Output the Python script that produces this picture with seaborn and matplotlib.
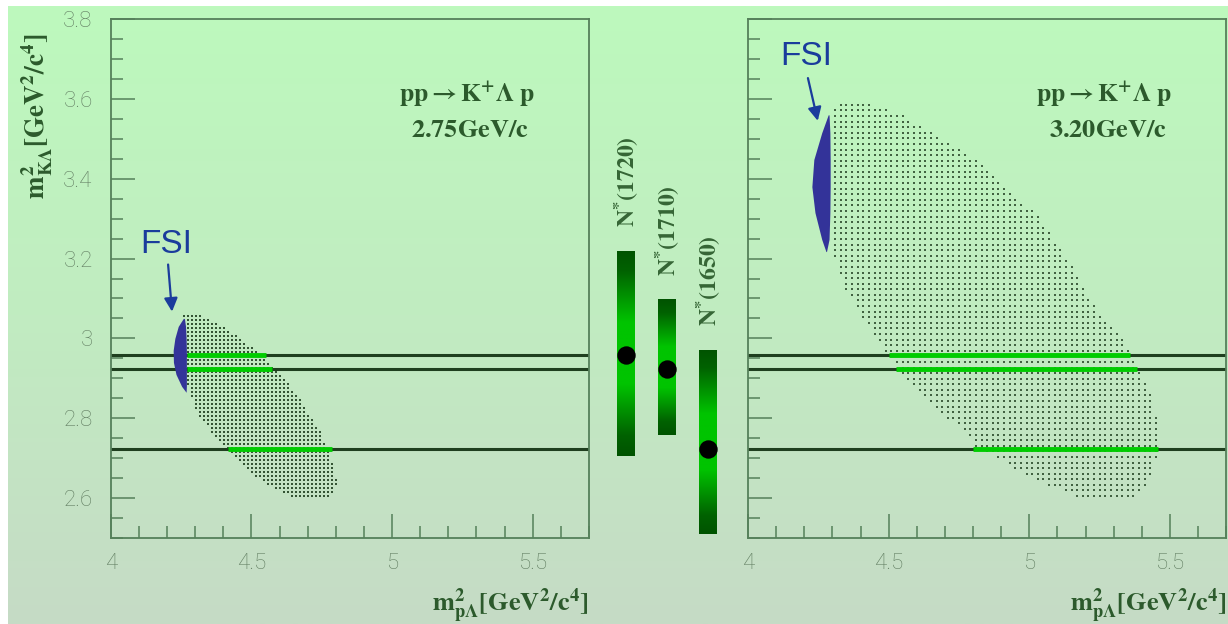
import numpy as np
import pandas as pd
import matplotlib
matplotlib.use("Agg")
import matplotlib.pyplot as plt
from matplotlib.colors import LinearSegmentedColormap
from matplotlib.path import Path
from matplotlib.ticker import MultipleLocator, FuncFormatter
import seaborn as sns

# ---------------- data ----------------
beam_labels = ["2.75GeV/c", "3.20GeV/c"]

# Dalitz-plot (phase space) boundary, left panel: m2(pL), m2(KL)
dal_l_x = [4.25, 4.32, 4.364, 4.432, 4.496, 4.574, 4.627, 4.674, 4.709, 4.745,
           4.770, 4.791, 4.805, 4.795, 4.760, 4.656, 4.613, 4.542, 4.471, 4.414,
           4.360, 4.318, 4.289, 4.272, 4.270, 4.270]
dal_l_y = [3.058, 3.060, 3.042, 3.015, 2.980, 2.930, 2.890, 2.848, 2.805, 2.765,
           2.723, 2.680, 2.640, 2.615, 2.597, 2.597, 2.615, 2.640, 2.680, 2.723,
           2.765, 2.805, 2.848, 2.890, 2.950, 3.050]

# Dalitz-plot boundary, right panel
dal_r_x = [4.290, 4.326, 4.418, 4.553, 4.650, 4.810, 4.910, 5.020, 5.087, 5.137,
           5.186, 5.250, 5.320, 5.360, 5.400, 5.440, 5.452, 5.460, 5.466, 5.440,
           5.420, 5.360, 5.190, 5.037, 4.937, 4.817, 4.780, 4.695, 4.626, 4.553,
           4.497, 4.440, 4.400, 4.340, 4.310, 4.290]
dal_r_y = [3.560, 3.592, 3.592, 3.560, 3.515, 3.448, 3.380, 3.315, 3.248, 3.198,
           3.130, 3.060, 3.015, 2.960, 2.905, 2.848, 2.805, 2.765, 2.723, 2.680,
           2.640, 2.597, 2.597, 2.640, 2.680, 2.723, 2.765, 2.805, 2.848, 2.905,
           2.960, 3.015, 3.060, 3.130, 3.198, 3.220]

# histogram bin widths (x, y) of the box plots
bins_l = (0.01417, 0.010)
bins_r = (0.020, 0.014)

# N* resonances
nstar_names = [r"$\mathbf{N^{*}(1720)}$", r"$\mathbf{N^{*}(1710)}$", r"$\mathbf{N^{*}(1650)}$"]
nstar_m2 = [2.958, 2.924, 2.7225]
nstar_lo = [2.705, 2.758, 2.510]
nstar_hi = [3.220, 3.0975, 2.972]

# resonance bands inside the Dalitz region (green segments)
seg_l_start = [4.270, 4.270, 4.417]
seg_l_end = [4.553, 4.574, 4.785]
seg_r_start = [4.500, 4.526, 4.800]
seg_r_end = [5.357, 5.381, 5.459]

# FSI regions (blue crescents)
fsi_l_y = [3.050, 3.030, 3.000, 2.970, 2.940, 2.910, 2.880, 2.865]
fsi_l_xl = [4.258, 4.240, 4.228, 4.222, 4.223, 4.232, 4.252, 4.268]
fsi_l_xr = [4.262, 4.266, 4.268, 4.269, 4.269, 4.269, 4.269, 4.268]
fsi_r_y = [3.560, 3.515, 3.448, 3.380, 3.315, 3.248, 3.2175]
fsi_r_xl = [4.285, 4.262, 4.234, 4.227, 4.238, 4.262, 4.277]
fsi_r_xr = [4.288, 4.291, 4.292, 4.292, 4.291, 4.288, 4.279]

# ---------------- style ----------------
plt.rcParams["mathtext.fontset"] = "stix"
plt.rcParams["font.family"] = ["Roboto", "DejaVu Sans"]
plt.rcParams["font.weight"] = "light"

spine_c = "#55805a"
tick_lab_c = "#637f63"
text_c = "#2c5a2c"
line_c = "#1f3f1f"
green_c = "#00cc00"
fsi_c = "#1a3c9c"
cres_c = "#333399"

reaction = r"$\mathbf{pp \rightarrow K^{+}\Lambda\ p}$"
xlab = r"$\mathbf{m^{2}_{p\Lambda}[GeV^{2}/c^{4}]}$"
ylab = r"$\mathbf{m^{2}_{K\Lambda}[GeV^{2}/c^{4}]}$"

W, H = 1228, 624
fig = plt.figure(figsize=(W / 100, H / 100), dpi=100)
fig.patch.set_facecolor("white")

# background gradient
bg = fig.add_axes([8 / W, 0, 1 - 8 / W, 1 - 6 / H])
bg.set_zorder(-5)
bg_cmap = LinearSegmentedColormap.from_list("bg", ["#bdf9bd", "#c1ecc1", "#c6dbc6"])
bg.imshow(np.linspace(0, 1, 256)[:, None], aspect="auto", cmap=bg_cmap, extent=(0, 1, 0, 1))
bg.axis("off")

ax_b = 1 - 538 / H
ax_h = 519 / H
axL = fig.add_axes([110.7 / W, ax_b, 478.3 / W, ax_h])
axR = fig.add_axes([748 / W, ax_b, 478.3 / W, ax_h])
axM = fig.add_axes([595.25 / W, ax_b, 143.5 / W, ax_h])

fmt = FuncFormatter(lambda v, p: f"{v:g}")


def draw_panel(ax, dx, dy, bins, s0, s1, fy, fxl, fxr, beam, ms, dot_alpha,
               fsi_xy, arrow_tail, arrow_head, show_ylab):
    ax.set_facecolor("none")
    bx, by = bins
    gx, gy = np.meshgrid(np.arange(4 + bx / 2, 5.7, bx), np.arange(2.5 + by / 2, 3.8, by))
    pts = np.column_stack([gx.ravel(), gy.ravel()])
    inside = Path(np.column_stack([dx, dy])).contains_points(pts)
    df = pd.DataFrame(pts[inside], columns=["m2pL", "m2KL"])
    sns.scatterplot(data=df, x="m2pL", y="m2KL", ax=ax, marker="s", s=ms,
                    color="#335333", linewidth=0, alpha=dot_alpha, zorder=1, legend=False)
    for y in nstar_m2:
        ax.axhline(y, color=line_c, lw=2.2, zorder=2)
    ax.hlines(nstar_m2, s0, s1, color=green_c, lw=3.5, zorder=3)
    ax.fill_betweenx(fy, fxl, fxr, color=cres_c, lw=0, zorder=4)
    ax.annotate("", xy=arrow_head, xytext=arrow_tail,
                arrowprops=dict(arrowstyle="-|>", color=fsi_c, lw=1.6,
                                mutation_scale=20, shrinkA=0, shrinkB=0), zorder=5)
    ax.text(fsi_xy[0], fsi_xy[1], "FSI", color=fsi_c, fontsize=24,
            family="Liberation Sans", weight="normal", ha="center", va="center")
    ax.text(0.745, 0.855, reaction, transform=ax.transAxes, ha="center", va="center",
            fontsize=18.5, color=text_c)
    ax.text(0.752, 0.786, r"$\mathbf{" + beam + "}$", transform=ax.transAxes,
            ha="center", va="center", fontsize=19, color=text_c)

    ax.set_xlim(4, 5.7)
    ax.set_ylim(2.5, 3.8)
    ax.xaxis.set_major_locator(MultipleLocator(0.5))
    ax.xaxis.set_minor_locator(MultipleLocator(0.1))
    ax.yaxis.set_major_locator(MultipleLocator(0.2))
    ax.yaxis.set_minor_locator(MultipleLocator(0.05))
    ax.xaxis.set_major_formatter(fmt)
    ax.yaxis.set_major_formatter(fmt)
    ax.tick_params(which="both", direction="in", top=False, right=False,
                   color=spine_c, width=1.1)
    ax.tick_params(which="major", length=17.5, labelsize=16, labelcolor=tick_lab_c)
    ax.tick_params(which="minor", length=8.5)
    ax.tick_params(axis="y", pad=13, labelleft=show_ylab)
    ax.tick_params(axis="x", pad=11)
    for sp in ax.spines.values():
        sp.set_color(spine_c)
        sp.set_linewidth(1.3)

    ax.set_xlabel(xlab, fontsize=19, color=text_c, loc="right")
    ax.xaxis.set_label_coords(1.0, -0.1426)
    ax.xaxis.label.set_va("baseline")
    if show_ylab:
        ax.set_ylabel(ylab, fontsize=19.5, color=text_c)
        ax.yaxis.set_label_coords(-0.154, 0.812)
        ax.yaxis.label.set_va("center")
    else:
        ax.set_ylabel("")


draw_panel(axL, dal_l_x, dal_l_y, bins_l, seg_l_start, seg_l_end,
           fsi_l_y, fsi_l_xl, fsi_l_xr, beam_labels[0], 4.6, 1.0,
           (4.197, 3.235), (4.204, 3.185), (4.218, 3.067), True)
draw_panel(axR, dal_r_x, dal_r_y, bins_r, seg_r_start, seg_r_end,
           fsi_r_y, fsi_r_xl, fsi_r_xr, beam_labels[1], 3.6, 0.9,
           (4.206, 3.705), (4.213, 3.652), (4.248, 3.545), False)

# ---------------- N* bars in the middle ----------------
axM.set_facecolor("none")
axM.axis("off")
nstar_cmap = LinearSegmentedColormap.from_list(
    "nstar", [(0.0, "#005300"), (0.1, "#006200"), (0.35, "#00c400"),
              (0.65, "#00c400"), (0.9, "#006200"), (1.0, "#005300")])
pos = np.arange(len(nstar_names))
bars = axM.bar(pos, np.subtract(nstar_hi, nstar_lo), bottom=nstar_lo, width=0.415,
               color="none", linewidth=0)
for b in bars:
    im = axM.imshow(np.linspace(0, 1, 256)[:, None], cmap=nstar_cmap, aspect="auto",
                    origin="lower", zorder=2,
                    extent=(b.get_x(), b.get_x() + b.get_width(),
                            b.get_y(), b.get_y() + b.get_height()))
    im.set_clip_path(b)
sns.scatterplot(x=pos, y=nstar_m2, ax=axM, s=175, color="black", linewidth=0,
                zorder=5, legend=False)
for p, hi, name in zip(pos, nstar_hi, nstar_names):
    axM.annotate(name, xy=(p, hi), xytext=(0, 17), textcoords="offset points",
                 rotation=90, ha="center", va="bottom", fontsize=17, color="#356535")
axM.set_xlim(-0.75, 2.75)
axM.set_ylim(2.5, 3.8)

fig.savefig("out.png", dpi=100)
